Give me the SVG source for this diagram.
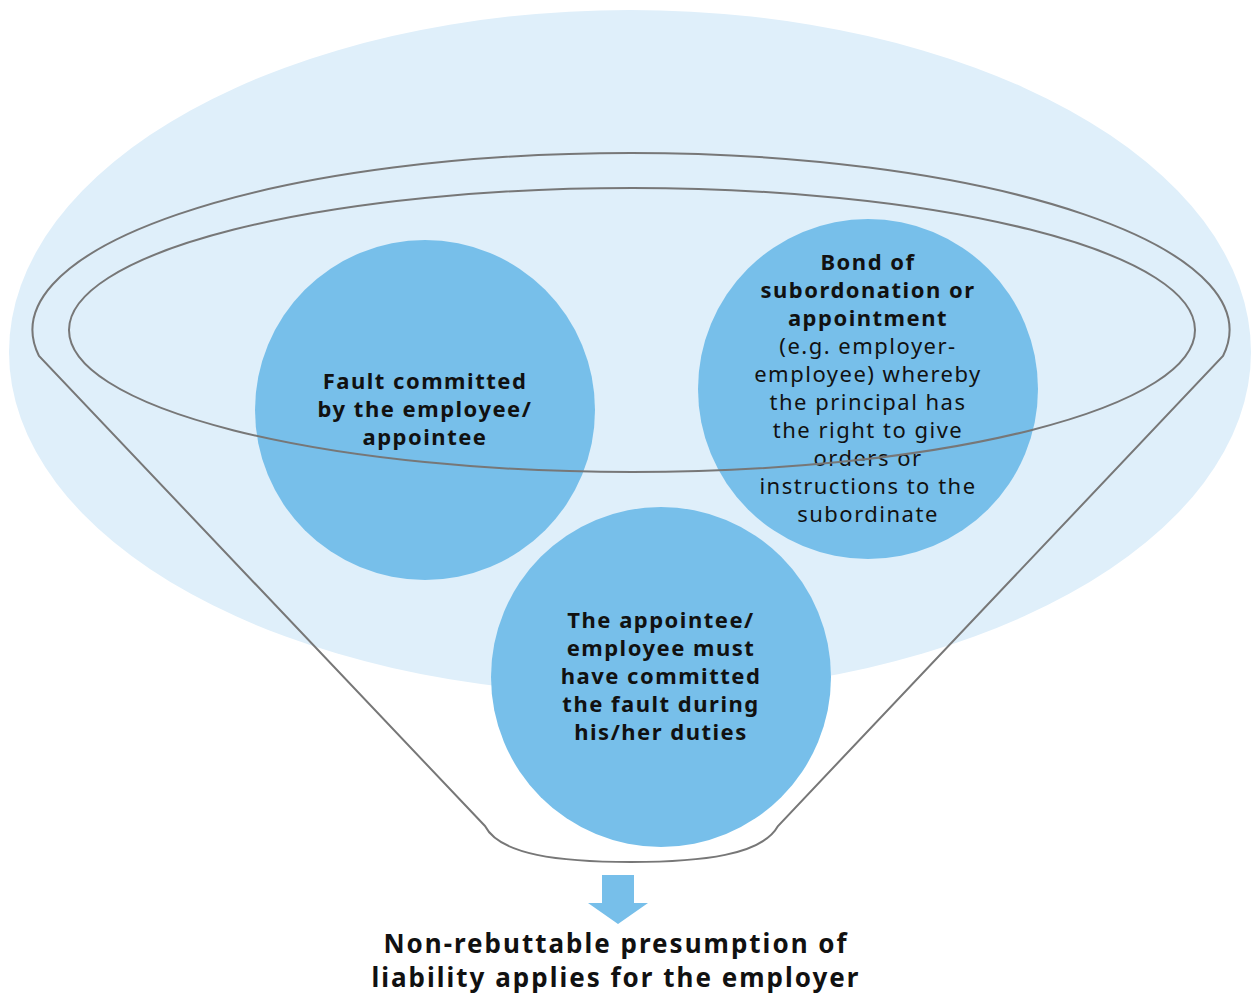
<svg xmlns="http://www.w3.org/2000/svg" width="1252" height="996" viewBox="0 0 1252 996">
<style>
.bg{fill:#dfeffa}
.c{fill:#77bfea}
.ln{fill:none;stroke:#777777;stroke-width:2}
text{font-family:"Noto Sans","Liberation Sans",sans-serif;fill:#111111;text-anchor:middle}
.t{font-size:22px;letter-spacing:1.5px}
.b{font-weight:bold}
.big{font-size:26px;font-weight:bold;letter-spacing:2px}
</style>
<rect width="1252" height="996" fill="#ffffff"/>
<ellipse class="bg" cx="630" cy="352" rx="621" ry="342"/>
<g id="node-fault">
<circle class="c" cx="425" cy="410" r="170"/>
<text class="t b" x="425" y="389">Fault committed</text>
<text class="t b" x="425" y="417">by the employee/</text>
<text class="t b" x="425" y="445">appointee</text>
</g>
<g id="node-bond">
<circle class="c" cx="868" cy="389" r="170"/>
<text class="t b" x="868" y="270">Bond of</text>
<text class="t b" x="868" y="298">subordonation or</text>
<text class="t b" x="868" y="326">appointment</text>
<text class="t" x="868" y="354">(e.g. employer-</text>
<text class="t" x="868" y="382">employee) whereby</text>
<text class="t" x="868" y="410">the principal has</text>
<text class="t" x="868" y="438">the right to give</text>
<text class="t" x="868" y="466">orders or</text>
<text class="t" x="868" y="494">instructions to the</text>
<text class="t" x="868" y="522">subordinate</text>
</g>
<g id="node-duties">
<circle class="c" cx="661" cy="677" r="170"/>
<text class="t b" x="661" y="628">The appointee/</text>
<text class="t b" x="661" y="656">employee must</text>
<text class="t b" x="661" y="684">have committed</text>
<text class="t b" x="661" y="712">the fault during</text>
<text class="t b" x="661" y="740">his/her duties</text>
</g>
<g id="funnel">
<path class="ln" d="M 485 826 L 39 356 A 598.5 177 0 1 1 1223 356 L 778 826 C 762 855 702 862 631 862 C 560 862 500 855 485 826 Z"/>
<ellipse class="ln" cx="632" cy="330" rx="563" ry="142"/>
</g>
<g id="connectors">
<path fill="#77bfea" d="M 602 875 L 634 875 L 634 903 L 648 903 L 618 924 L 588 903 L 602 903 Z"/>
</g>
<g id="node-result">
<text class="big" x="616" y="953">Non-rebuttable presumption of</text>
<text class="big" x="616" y="987">liability applies for the employer</text>
</g>
</svg>
